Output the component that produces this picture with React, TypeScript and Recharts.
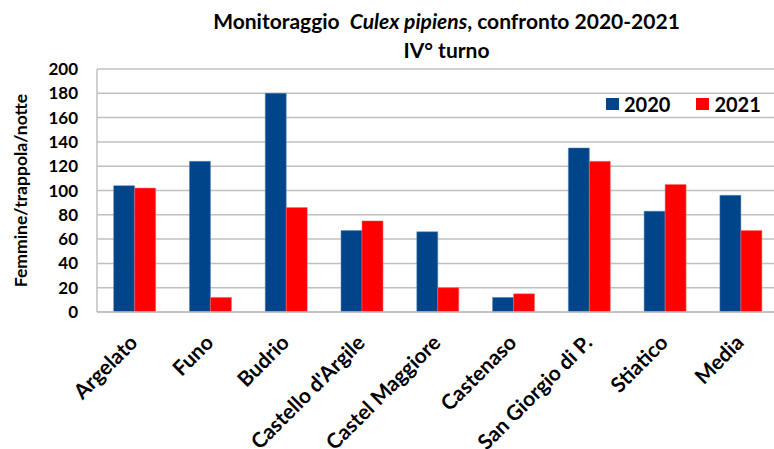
import React from "react";
import { BarChart, Bar, XAxis, YAxis, CartesianGrid, Legend } from "recharts";

const categories = [
  "Argelato",
  "Funo",
  "Budrio",
  "Castello d'Argile",
  "Castel Maggiore",
  "Castenaso",
  "San Giorgio di P.",
  "Stiatico",
  "Media",
];
const values2020 = [104, 124, 180, 67, 66, 12, 135, 83, 96];
const values2021 = [102, 12, 86, 75, 20, 15, 124, 105, 67];
const yTicks = [0, 20, 40, 60, 80, 100, 120, 140, 160, 180, 200];

const data = categories.map((name, i) => ({
  name,
  y2020: values2020[i],
  y2021: values2021[i],
}));

const FONT = "Lato, 'Open Sans', sans-serif";

const XTick = (props: any) => {
  const { x, y, payload } = props;
  return (
    <g transform={`translate(${x + 4},${y + 24}) rotate(-45)`}>
      <text
        x={0}
        y={0}
        textAnchor="end"
        fontFamily={FONT}
        fontWeight={700}
        fontSize={21}
        fill="#000"
      >
        {payload.value}
      </text>
    </g>
  );
};

const LegendContent = (props: any) => {
  const { payload } = props;
  return (
    <div style={{ display: "flex", alignItems: "center", fontFamily: FONT }}>
      {payload.map((p: any, i: number) => (
        <div
          key={i}
          style={{ display: "flex", alignItems: "center", marginRight: i === 0 ? 26 : 0 }}
        >
          <span
            style={{
              display: "inline-block",
              width: 13,
              height: 12,
              background: p.color,
              marginRight: 5,
            }}
          />
          <span style={{ fontSize: 20, fontWeight: 700, color: "#000", lineHeight: "20px" }}>
            {p.value}
          </span>
        </div>
      ))}
    </div>
  );
};

export default function App() {
  return (
    <div
      style={{
        position: "absolute",
        left: 0,
        top: 0,
        width: 774,
        height: 449,
        overflow: "hidden",
        background: "#fff",
      }}
    >
      <div
        style={{
          position: "absolute",
          left: 0,
          top: 6,
          width: 893,
          textAlign: "center",
          fontFamily: FONT,
          fontWeight: 700,
          fontSize: 21,
          lineHeight: "29px",
          color: "#000",
          zIndex: 2,
        }}
      >
        <div>
          Monitoraggio&nbsp;&nbsp;<i>Culex pipiens</i>, confronto 2020-2021
        </div>
        <div>IV° turno</div>
      </div>
      <BarChart
        width={779}
        height={449}
        data={data}
        margin={{ top: 69, right: 0, left: 0, bottom: 0 }}
        barCategoryGap="22%"
        barGap={0}
      >
        <CartesianGrid vertical={false} stroke="#c0c0c0" strokeWidth={1.5} />
        <XAxis
          dataKey="name"
          height={137}
          interval={0}
          tickLine={false}
          axisLine={{ stroke: "#c0c0c0", strokeWidth: 1.5 }}
          tick={<XTick />}
        />
        <YAxis
          width={97}
          domain={[0, 200]}
          ticks={yTicks}
          interval={0}
          tickLine={false}
          axisLine={{ stroke: "#c0c0c0", strokeWidth: 1.5 }}
          tickMargin={13}
          tick={{ fontFamily: FONT, fontWeight: 700, fontSize: 17, fill: "#000" }}
          label={({ viewBox }: any) => (
            <text
              x={20}
              y={viewBox.y + viewBox.height / 2}
              transform={`rotate(-90, 20, ${viewBox.y + viewBox.height / 2})`}
              textAnchor="middle"
              dominantBaseline="central"
              fontFamily={FONT}
              fontWeight={700}
              fontSize={17.5}
              fill="#000"
            >
              Femmine/trappola/notte
            </text>
          )}
        />
        <Legend
          verticalAlign="middle"
          align="center"
          layout="horizontal"
          wrapperStyle={{ top: 94, left: 606, width: 170 }}
          content={<LegendContent />}
        />
        <Bar
          dataKey="y2020"
          name="2020"
          fill="#00448A"
          stroke="#5d84b4"
          strokeWidth={0.5}
          isAnimationActive={false}
        />
        <Bar
          dataKey="y2021"
          name="2021"
          fill="#FF0000"
          stroke="#ff6a6a"
          strokeWidth={0.5}
          isAnimationActive={false}
        />
      </BarChart>
    </div>
  );
}
